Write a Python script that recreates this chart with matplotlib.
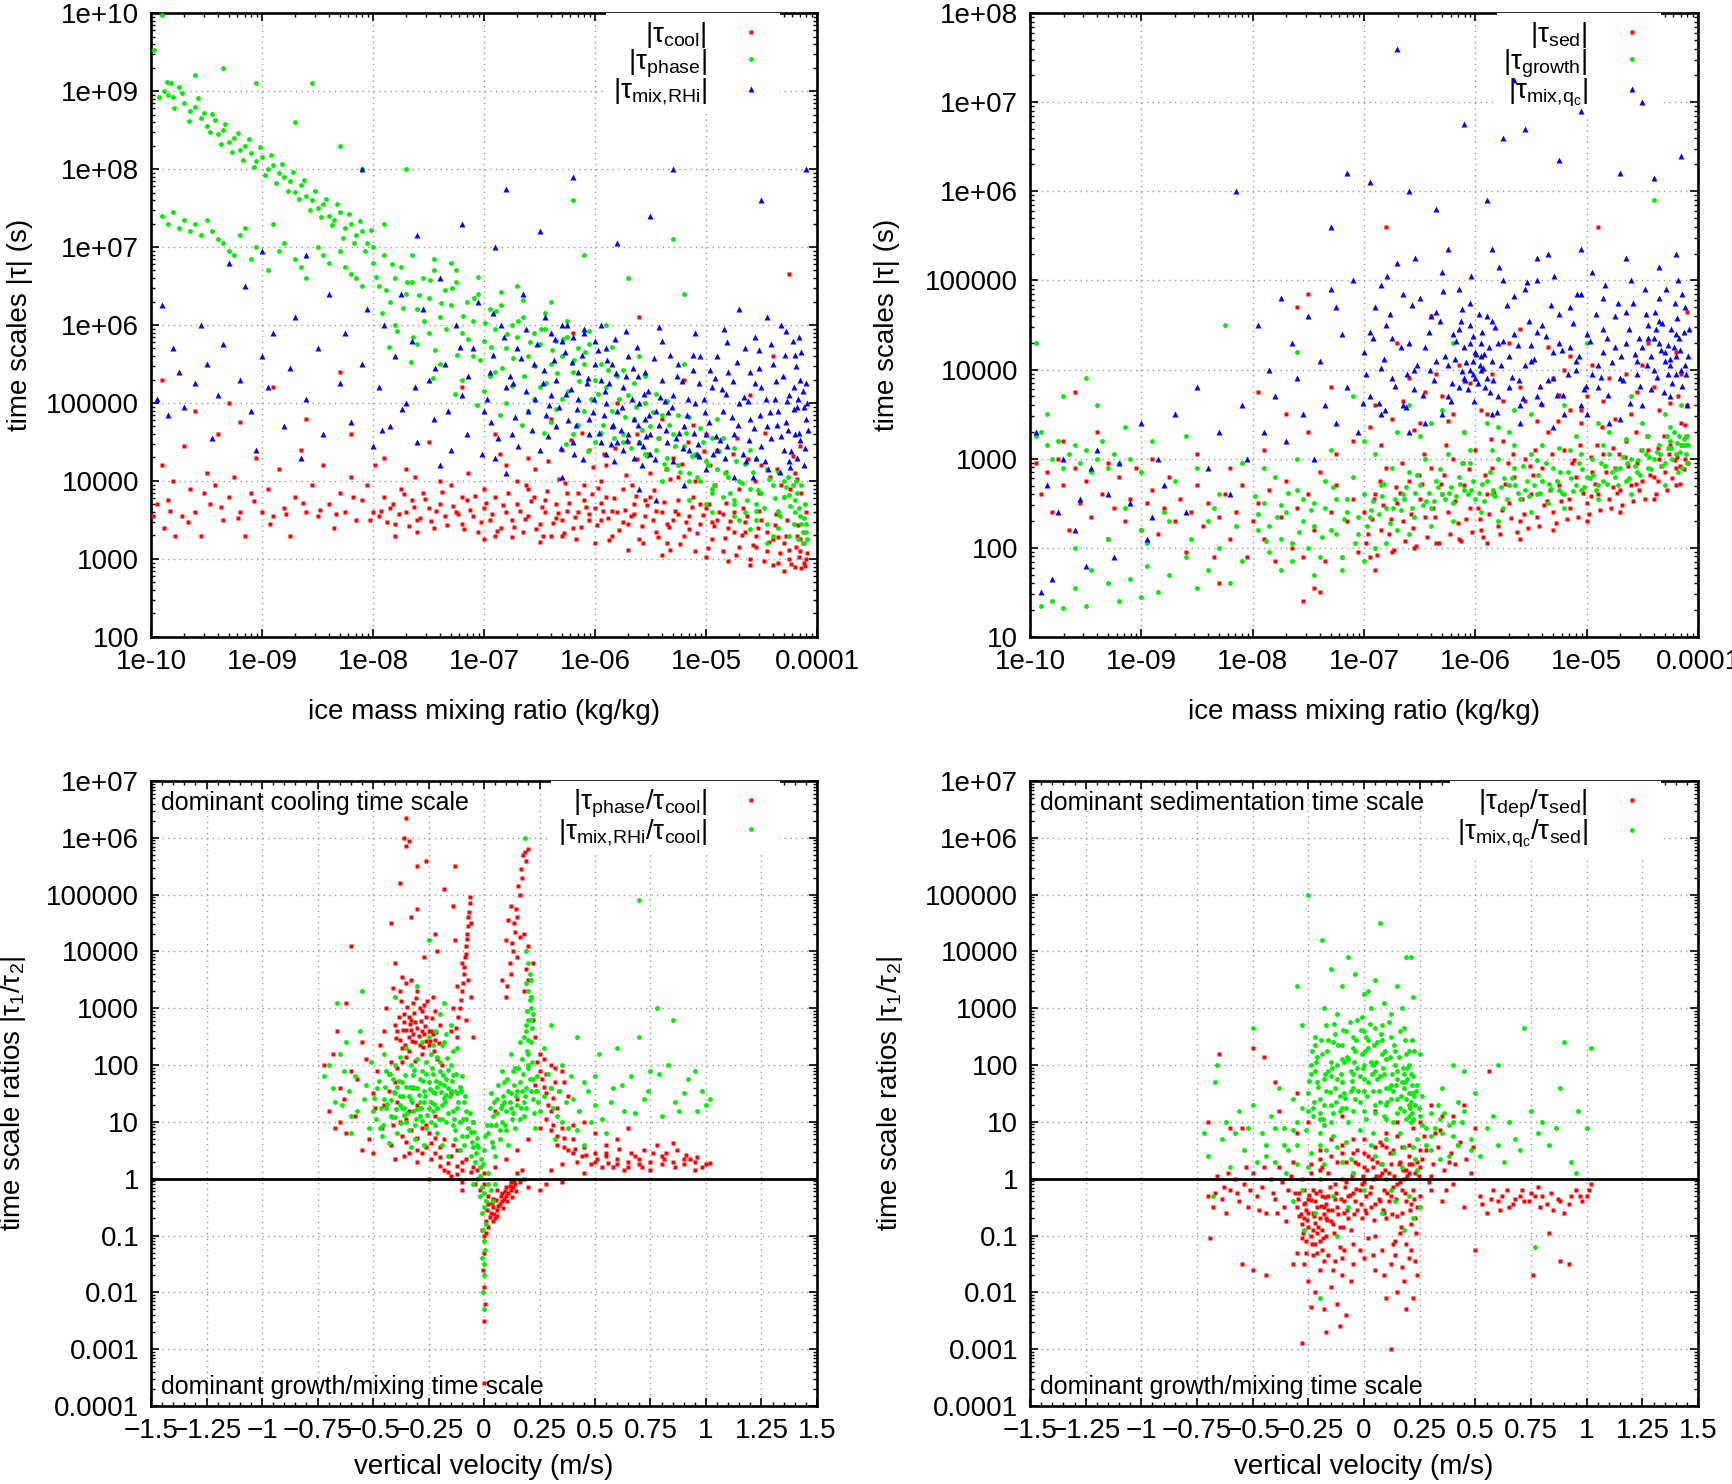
import numpy as np
import matplotlib
matplotlib.use('Agg')
import matplotlib.pyplot as plt
from matplotlib.ticker import LogLocator, FuncFormatter, MultipleLocator, NullFormatter

plt.rcParams['font.family'] = ['Liberation Sans', 'DejaVu Sans']
plt.rcParams['mathtext.fontset'] = 'custom'
plt.rcParams['mathtext.rm'] = 'Liberation Sans'
plt.rcParams['mathtext.it'] = 'Liberation Sans:italic'
plt.rcParams['mathtext.bf'] = 'Liberation Sans:bold'
plt.rcParams['mathtext.sf'] = 'Liberation Sans'

# ---------------- data ----------------
# top panels: (log10 ice mass mixing ratio, log10 |tau| in s)
tl_cool = [(-9.95,3.7),(-9.9,4.2),(-9.88,3.4),(-9.85,3.75),(-9.8,4.0),(-9.78,3.3),(-9.72,3.55),(-9.7,4.45),(-9.65,3.9),(-9.6,3.6),(-9.55,3.3),(-9.5,4.1),(-9.47,3.7),(-9.42,3.95),(-9.4,4.6),(-9.35,3.5),(-9.3,3.8),(-9.25,4.05),(-9.2,3.6),(-9.15,3.3),(-9.1,3.85),(-9.05,4.3),(-9.0,3.6),(-8.95,3.9),(-8.9,3.55),(-8.85,4.15),(-8.8,3.65),(-8.75,3.3),(-8.7,3.8),(-8.65,4.4),(-8.6,3.6),(-8.55,3.95),(-8.5,3.55),(-8.45,4.2),(-8.4,3.7),(-8.35,3.4),(-8.3,3.85),(-8.25,3.6),(-8.2,4.05),(-8.15,3.5),(-8.1,3.75),(-8.05,3.95),(-8.0,3.6),
    (-9.9,5.3),(-9.6,4.9),(-9.3,5.0),(-8.9,5.2),(-8.6,4.8),(-8.3,5.4),(-9.2,4.75),(-8.2,4.6),
    (-7.95,3.55),(-7.9,3.8),(-7.85,3.65),(-7.8,3.45),(-7.75,3.9),(-7.7,3.6),(-7.65,3.75),(-7.6,3.5),(-7.55,3.85),(-7.5,3.65),(-7.45,3.4),(-7.4,3.7),(-7.35,3.55),(-7.3,3.95),(-7.25,3.6),(-7.2,3.45),(-7.15,3.75),(-7.1,3.55),(-7.05,3.35),(-7.0,3.65),(-6.95,3.5),(-6.9,3.8),(-6.85,3.4),(-6.8,3.6),(-6.75,3.5),(-6.7,3.7),(-6.65,3.35),(-6.6,3.55),(-6.55,3.8),(-6.5,3.45),(-6.45,3.6),(-6.4,3.3),(-6.35,3.7),(-6.3,3.5),(-6.25,3.85),(-6.2,3.4),(-6.15,3.6),(-6.1,3.75),(-6.05,3.5),(-6.0,3.65),
    (-7.6,3.35),(-7.2,3.8),(-6.9,3.3),(-6.6,3.9),(-6.3,3.3),(-6.1,3.95),(-7.8,3.3),(-7.4,4.0),(-7.0,3.9),(-6.7,4.0),
    (-7.9,4.3),(-7.5,4.5),(-7.2,5.2),(-6.9,4.6),(-6.6,4.3),(-6.4,4.8),(-6.2,5.9),(-6.3,4.4),(-7.7,4.15),(-6.8,4.2),(-6.05,4.4),
    (-5.95,3.5),(-5.9,3.8),(-5.85,3.3),(-5.8,3.6),(-5.75,3.9),(-5.7,3.45),(-5.65,3.7),(-5.6,3.25),(-5.55,3.55),(-5.5,3.8),(-5.45,3.35),(-5.4,3.6),(-5.35,3.2),(-5.3,3.5),(-5.25,3.75),(-5.2,3.3),(-5.15,3.55),(-5.1,3.1),(-5.05,3.45),(-5.0,3.65),(-4.95,3.25),(-4.9,3.5),(-4.85,3.1),(-4.8,3.4),(-4.75,3.6),(-4.7,3.15),(-4.65,3.35),(-4.6,3.0),(-4.55,3.3),(-4.5,3.5),(-4.45,3.1),(-4.4,3.25),(-4.35,2.95),(-4.3,3.2),(-4.25,3.0),(-4.2,2.9),(-4.15,3.1),(-4.12,2.95),(-4.1,3.0),(-4.18,3.3),
    (-5.9,4.2),(-5.7,4.5),(-5.5,4.1),(-5.3,4.3),(-5.1,4.0),(-4.9,4.4),(-4.7,3.9),(-4.5,4.2),(-4.3,3.8),(-4.2,4.1),(-5.8,5.0),(-5.4,4.8),(-5.0,4.6),(-4.6,5.1),(-4.4,5.6),(-4.25,6.65),(-5.6,6.1),(-5.2,5.3),(-4.1,3.6),(-4.15,4.45),(-5.95,4.0),(-5.25,4.05),
    (-7.93,3.62),(-7.87,3.48),(-7.82,3.71),(-7.77,3.58),(-7.72,3.83),(-7.68,3.42),(-7.63,3.66),(-7.58,3.53),(-7.53,3.77),(-7.48,3.49),(-7.43,3.61),(-7.38,3.86),(-7.33,3.44),(-7.28,3.68),(-7.23,3.57),(-7.18,3.39),(-7.13,3.63),(-7.08,3.81),(-7.03,3.47),(-6.98,3.72),(-6.93,3.58),(-6.88,3.36),(-6.83,3.69),(-6.78,3.84),(-6.73,3.41),(-6.68,3.62),(-6.63,3.51),(-6.58,3.74),(-6.53,3.38),(-6.48,3.66),(-6.43,3.87),(-6.38,3.46),(-6.33,3.59),(-6.28,3.33),(-6.23,3.72),(-6.18,3.54),(-6.13,3.41),(-6.08,3.67),(-6.03,3.83),(-5.98,3.44),(-5.93,3.61),(-5.88,3.52),(-5.83,3.78),(-5.78,3.37),(-5.73,3.63),(-5.68,3.55),(-5.63,3.81),(-5.58,3.42),(-5.53,3.69),(-5.48,3.5),(-5.43,3.28),(-5.38,3.73),(-5.33,3.41),(-5.28,3.62),(-5.23,3.19),(-5.18,3.47),(-5.13,3.66),(-5.08,3.33),(-5.03,3.56),(-4.98,3.14),(-4.93,3.42),(-4.88,3.6),(-4.83,3.27),(-4.78,3.49),(-4.73,3.05),(-4.68,3.31),(-4.63,3.55),(-4.58,3.18),(-4.53,3.4),(-4.48,2.98),(-4.43,3.22),(-4.38,3.44),(-4.33,3.07),(-4.28,3.29),(-4.23,2.93),(-4.19,3.15),(-4.16,3.02),(-4.13,3.2),(-4.11,2.91),(-4.09,3.08),
    (-6.62,3.95),(-6.47,3.29),(-6.27,3.97),(-6.17,3.26),(-5.97,3.91),(-5.87,3.24),(-5.67,3.95),(-5.57,3.2),(-5.47,3.88),(-5.32,3.12),(-5.12,3.8),(-4.97,3.7),(-4.82,3.72),(-4.67,3.65),(-4.52,3.62),(-4.37,3.58),(-4.27,3.5),(-4.17,3.43),
    (-5.92,4.35),(-5.62,4.6),(-5.36,4.15),(-5.16,4.5),(-4.96,4.2),(-4.76,4.35),(-4.56,4.0),(-4.36,4.15),(-4.24,3.9),(-4.14,3.85),(-6.54,4.15),(-6.86,4.35),(-7.14,4.1),(-7.62,4.05),(-7.98,4.2),
    (-9.98,3.55),(-9.83,3.62),(-9.67,3.48),(-9.52,3.85),(-9.37,3.66),(-9.22,3.52),(-9.07,3.74),(-8.93,3.45),(-8.78,3.58),(-8.63,3.72),(-8.48,3.63),(-8.33,3.57),(-8.18,3.8),(-8.03,3.5),
    (-6.45,3.75),(-6.35,3.52),(-6.25,3.62),(-6.15,3.85),(-6.05,3.58),(-5.95,3.72),(-5.85,3.62),(-5.75,3.48),(-5.65,3.58),(-5.55,3.75),(-5.45,3.62),(-5.35,3.45),(-5.25,3.58),(-5.15,3.38),(-5.05,3.7),(-4.95,3.48),(-4.85,3.58),(-4.75,3.35),(-4.65,3.48),(-4.55,3.15),(-4.45,3.35),(-4.35,3.28),(-4.25,3.12),(-4.15,3.25),
    (-6.42,4.25),(-6.22,4.52),(-6.02,4.18),(-5.82,4.42),(-5.62,4.28),(-5.42,4.55),(-5.22,4.22),(-5.02,4.38),(-4.82,4.12),(-4.62,4.28),(-4.42,4.05),(-4.22,4.32),(-6.12,4.62),(-5.72,4.08),(-5.32,4.02),(-4.92,3.95),(-4.52,3.85),(-4.32,3.95),(-6.32,4.02),(-5.52,4.35),(-5.12,4.72),(-4.72,4.55),(-4.47,4.62),(-4.18,4.02),
    (-5.7,3.12),(-5.4,3.05),(-5.0,3.02),(-4.8,2.98),(-4.6,2.92),(-4.4,2.92),(-4.3,2.85),(-4.14,2.88),(-6.0,3.2),(-6.5,3.22),(-7.0,3.25),(-6.75,3.28)]

tl_phase = [(-9.97,9.53),(-9.9,9.98),(-9.88,9.0),(-9.85,8.95),(-9.82,9.1),(-9.8,8.93),(-9.75,9.05),(-9.7,8.85),(-9.65,8.75),(-9.6,8.8),(-9.55,8.65),(-9.5,8.55),(-9.45,8.7),(-9.4,8.45),(-9.35,8.5),(-9.3,8.35),(-9.25,8.4),(-9.2,8.25),(-9.15,8.3),(-9.1,8.2),(-9.05,8.1),(-9.0,8.15),(-8.95,8.0),(-8.9,8.05),(-8.85,7.95),(-8.8,7.9),(-8.75,7.85),(-8.7,7.7),(-8.65,7.8),(-8.6,7.65),(-8.55,7.6),(-8.5,7.5),(-8.45,7.55),(-8.4,7.4),(-8.35,7.35),(-8.3,7.45),(-8.25,7.25),(-8.2,7.3),(-8.15,7.15),(-8.1,7.2),(-8.05,7.05),(-8.0,7.0),
    (-9.6,9.2),(-9.35,9.3),(-9.05,9.1),(-8.55,9.1),(-8.7,8.6),(-8.1,8.0),(-8.3,8.3),(-7.7,8.0),(-6.2,7.6),(-5.3,7.1),
    (-9.9,7.4),(-9.8,7.45),(-9.75,7.25),(-9.65,7.2),(-9.6,7.3),(-9.5,7.35),(-9.45,7.2),(-9.4,7.1),(-9.3,6.95),(-9.25,6.9),(-9.15,7.25),(-9.05,7.0),(-8.95,6.7),(-8.9,7.3),(-8.8,7.05),(-8.7,6.85),(-8.6,6.6),(-8.5,7.0),(-8.4,6.8),(-8.3,6.95),(-8.2,6.65),(-8.1,6.5),
    (-8.0,6.8),(-7.95,6.5),(-7.9,6.9),(-7.85,6.3),(-7.8,6.6),(-7.75,6.75),(-7.7,6.4),(-7.65,6.55),(-7.6,6.2),(-7.55,6.6),(-7.5,6.35),(-7.45,6.7),(-7.4,6.1),(-7.35,6.45),(-7.3,6.25),(-7.25,6.55),(-7.2,5.9),(-7.15,6.3),(-7.1,6.05),(-7.05,6.4),(-7.0,5.8),(-6.95,6.2),(-6.9,5.95),(-6.85,6.25),(-6.8,5.7),(-6.75,6.0),(-6.7,5.85),(-6.65,6.1),(-6.6,5.6),(-6.55,5.9),(-6.5,5.75),(-6.45,5.95),(-6.4,5.5),(-6.35,5.8),(-6.3,5.6),(-6.25,5.85),(-6.2,5.4),(-6.15,5.7),(-6.1,5.5),(-6.05,5.75),(-6.0,5.3),
    (-7.8,6.0),(-7.6,5.75),(-7.4,5.5),(-7.2,5.3),(-7.0,5.15),(-6.8,5.0),(-6.6,4.9),(-6.4,4.75),(-6.2,4.6),(-7.5,5.9),(-7.1,5.6),(-6.9,5.4),(-6.5,5.2),(-6.3,5.05),(-6.1,4.9),
    (-5.95,5.5),(-5.9,5.2),(-5.85,4.9),(-5.8,5.35),(-5.75,4.6),(-5.7,5.1),(-5.65,4.8),(-5.6,4.5),(-5.55,5.0),(-5.5,4.7),(-5.45,4.4),(-5.4,4.85),(-5.35,4.3),(-5.3,4.6),(-5.25,4.2),(-5.2,4.45),(-5.15,4.1),(-5.1,4.35),(-5.05,4.0),(-5.0,4.25),(-4.95,3.9),(-4.9,4.15),(-4.85,3.8),(-4.8,4.05),(-4.75,3.7),(-4.7,4.0),(-4.65,3.6),(-4.6,3.9),(-4.55,3.5),(-4.5,3.85),(-4.45,3.45),(-4.4,3.95),(-4.35,3.4),(-4.3,3.8),(-4.25,3.3),(-4.2,3.6),(-4.17,3.25),(-4.14,3.45),(-4.12,3.2),(-4.1,3.35),(-4.22,3.95),(-4.3,4.0),
    (-5.9,6.0),(-5.6,5.6),(-5.2,5.5),(-4.9,4.8),(-4.6,4.4),(-6.0,4.5),(-5.4,4.0),(-5.0,3.7),(-4.7,3.5),(-4.45,3.2),(-7.9,7.3),(-7.3,6.8),(-6.7,6.5),(-6.4,6.3),(-5.7,6.6),(-5.2,6.4),(-6.1,6.9),
    (-9.93,8.92),(-9.86,9.12),(-9.79,8.78),(-9.72,8.98),(-9.66,8.62),(-9.58,8.91),(-9.52,8.72),(-9.47,8.48),(-9.42,8.63),(-9.37,8.32),(-9.33,8.58),(-9.27,8.22),(-9.22,8.46),(-9.17,8.12),(-9.12,8.38),(-9.07,8.02),(-9.02,8.28),(-8.97,7.92),(-8.92,8.18),(-8.87,7.82),(-8.82,8.06),(-8.77,7.72),(-8.72,7.96),(-8.67,7.62),(-8.62,7.86),(-8.57,7.48),(-8.52,7.72),(-8.47,7.38),(-8.42,7.62),(-8.37,7.28),(-8.32,7.55),(-8.27,7.12),(-8.22,7.42),(-8.17,7.05),(-8.12,7.33),(-8.07,6.95),(-8.02,7.22),
    (-9.85,7.3),(-9.7,7.35),(-9.55,7.15),(-9.35,7.05),(-9.2,7.15),(-9.1,6.85),(-8.85,6.95),(-8.65,6.75),(-8.45,6.9),(-8.25,6.75),(-8.15,6.6),
    (-7.97,6.62),(-7.92,6.15),(-7.88,6.45),(-7.83,6.78),(-7.78,5.92),(-7.73,6.22),(-7.69,6.55),(-7.64,5.85),(-7.59,6.38),(-7.54,6.05),(-7.49,6.58),(-7.44,5.68),(-7.39,6.28),(-7.34,5.95),(-7.29,6.48),(-7.24,5.62),(-7.19,6.12),(-7.14,5.82),(-7.09,6.35),(-7.04,5.55),(-6.99,6.02),(-6.94,5.72),(-6.89,6.18),(-6.84,5.45),(-6.79,5.88),(-6.74,5.58),(-6.69,6.05),(-6.64,5.35),(-6.59,5.78),(-6.54,5.48),(-6.49,5.95),(-6.44,5.25),(-6.39,5.68),(-6.34,5.38),(-6.29,5.82),(-6.24,5.15),(-6.19,5.55),(-6.14,5.28),(-6.09,5.65),(-6.04,5.05),
    (-7.86,5.72),(-7.66,5.52),(-7.46,5.32),(-7.26,5.12),(-7.06,4.98),(-6.86,4.85),(-6.66,4.72),(-6.46,4.62),(-6.26,4.48),(-6.06,4.38),
    (-5.97,5.12),(-5.93,4.72),(-5.88,5.42),(-5.83,4.55),(-5.78,5.05),(-5.73,4.82),(-5.68,4.42),(-5.63,4.95),(-5.58,4.65),(-5.53,4.32),(-5.48,4.88),(-5.43,4.55),(-5.38,4.22),(-5.33,4.72),(-5.28,4.45),(-5.23,4.12),(-5.18,4.62),(-5.13,4.32),(-5.08,4.05),(-5.03,4.5),(-4.98,4.2),(-4.93,3.95),(-4.88,4.38),(-4.83,4.1),(-4.78,3.85),(-4.73,4.25),(-4.68,3.98),(-4.63,3.75),(-4.58,4.12),(-4.53,3.88),(-4.48,3.65),(-4.43,4.02),(-4.38,3.78),(-4.33,3.55),(-4.28,3.92),(-4.24,3.68),(-4.21,3.45),(-4.18,3.85),(-4.15,3.55),(-4.13,3.35),(-4.11,3.7),(-4.09,3.25),(-4.26,4.05),(-4.19,4.0),(-4.14,3.95),(-4.35,3.62),(-4.55,3.62),(-4.75,3.55),(-4.95,3.6),(-5.15,3.75),(-4.4,3.3),(-4.6,3.38),
    (-5.85,5.72),(-5.75,5.42),(-5.65,5.25),(-5.55,5.35),(-5.45,5.12),(-5.35,5.02),(-5.25,4.85),(-5.15,4.82),(-5.05,4.68),(-4.95,4.55),(-4.85,4.55),(-4.75,4.42),(-4.65,4.22),(-4.55,4.28),(-4.45,4.15),(-4.35,4.12),(-4.25,3.82),(-4.2,3.75),(-4.16,3.65),(-4.12,3.52),(-4.1,3.45),
    (-6.95,5.35),(-6.75,5.22),(-6.55,5.05),(-6.35,4.92),(-6.15,4.72),(-5.95,4.62),(-5.75,4.5),(-5.55,4.35),(-5.35,4.15),(-5.15,4.0),(-4.95,3.85),(-4.75,3.75),(-4.55,3.7),(-4.35,3.6),
    (-7.65,6.9),(-7.45,6.85),(-7.25,6.7),(-7.05,6.62),(-6.85,6.42),(-6.65,6.32),(-6.45,6.15),(-6.25,6.05),(-6.05,5.92)]

tl_mix = [(-9.95,5.05),(-9.9,6.25),(-9.85,4.85),(-9.8,5.7),(-9.75,5.4),(-9.7,4.95),(-9.6,5.25),(-9.55,6.0),(-9.5,5.5),(-9.4,5.1),(-9.35,5.75),(-9.3,6.8),(-9.2,5.3),(-9.15,6.5),(-9.1,4.9),(-9.0,5.6),(-8.95,5.2),(-8.9,5.9),(-8.8,4.7),(-8.75,5.45),(-8.7,6.1),(-8.6,5.05),(-8.5,5.7),(-8.45,4.6),(-8.4,6.4),(-8.3,5.25),(-8.25,5.9),(-8.2,4.75),(-8.1,5.5),(-8.05,6.2),(-9.45,4.55),(-9.05,4.4),(-8.65,4.3),(-8.0,4.45),
    (-9.0,6.95),(-8.6,6.9),(-8.1,8.0),(-7.2,7.3),(-6.8,7.75),(-6.5,7.2),(-6.2,7.9),(-5.8,7.05),(-5.3,8.0),(-4.1,8.0),(-7.6,7.15),(-6.9,7.0),(-5.5,7.4),(-4.5,7.6),
    (-7.95,5.2),(-7.9,6.0),(-7.85,4.7),(-7.8,5.6),(-7.75,6.4),(-7.7,5.0),(-7.65,5.8),(-7.6,4.5),(-7.55,6.2),(-7.5,5.3),(-7.45,4.8),(-7.4,6.6),(-7.35,5.5),(-7.3,4.4),(-7.25,6.0),(-7.2,5.1),(-7.15,4.6),(-7.1,5.7),(-7.05,6.3),(-7.0,4.9),(-6.95,5.4),(-6.9,4.3),(-6.85,6.0),(-6.8,5.2),(-6.75,4.6),(-6.7,5.7),(-6.65,6.4),(-6.6,4.9),(-6.55,5.5),(-6.5,4.4),(-6.45,6.1),(-6.4,5.1),(-6.35,4.7),(-6.3,5.8),(-6.25,6.0),(-6.2,4.5),(-6.15,5.4),(-6.1,5.9),(-6.05,4.8),(-6.0,5.5),
    (-6.4,5.9),(-6.3,6.0),(-6.2,5.85),(-6.1,5.95),(-6.0,5.8),(-5.95,6.0),(-5.9,5.7),(-6.35,5.3),(-6.15,5.05),(-6.05,4.6),(-5.95,4.5),(-5.9,4.35),(-5.85,4.7),(-5.8,4.5),(-5.75,4.4),(-5.7,4.6),(-5.65,4.3),(-5.6,4.5),(-5.55,4.8),(-5.5,4.35),
    (-5.95,5.3),(-5.9,5.0),(-5.85,5.5),(-5.8,4.9),(-5.75,5.2),(-5.7,5.6),(-5.65,4.8),(-5.6,5.0),(-5.55,5.4),(-5.5,4.6),(-5.45,4.9),(-5.4,5.3),(-5.35,4.5),(-5.3,5.1),(-5.25,5.5),(-5.2,4.7),(-5.15,4.4),(-5.1,5.0),(-5.05,5.6),(-5.0,4.6),(-4.95,5.2),(-4.9,4.4),(-4.85,4.9),(-4.8,5.4),(-4.75,4.6),(-4.7,5.0),(-4.65,5.7),(-4.6,4.8),(-4.55,4.3),(-4.5,5.2),(-4.45,4.7),(-4.4,5.5),(-4.35,4.9),(-4.3,4.4),(-4.25,5.1),(-4.2,4.6),(-4.15,5.3),(-4.12,4.2),(-4.1,4.8),(-4.22,5.8),(-4.32,6.0),(-4.45,6.1),(-4.7,6.2),(-5.1,5.9),(-5.4,5.8),(-4.18,4.95),(-4.28,4.75),(-4.38,5.05),(-4.6,5.4),(-4.9,5.6),(-5.3,4.25),(-5.0,4.15),(-4.75,4.05),(-4.5,4.45),(-4.25,4.25),
    (-6.8,4.1),(-7.4,4.2),(-6.3,4.05),(-5.6,3.9),(-5.45,3.75),(-5.2,3.95),
    (-6.97,5.05),(-6.92,5.62),(-6.87,4.55),(-6.82,5.85),(-6.77,5.35),(-6.72,4.82),(-6.67,5.58),(-6.62,5.15),(-6.57,4.65),(-6.52,5.75),(-6.47,5.25),(-6.42,4.58),(-6.37,5.55),(-6.32,4.95),(-6.27,5.65),(-6.22,5.18),(-6.17,4.72),(-6.12,5.62),(-6.07,5.25),(-6.02,4.88),
    (-5.97,5.68),(-5.92,4.85),(-5.87,5.25),(-5.82,5.82),(-5.77,4.65),(-5.72,5.35),(-5.67,5.05),(-5.62,5.72),(-5.57,4.45),(-5.52,5.15),(-5.47,5.58),(-5.42,4.72),(-5.37,5.02),(-5.32,5.62),(-5.27,4.55),(-5.22,5.28),(-5.17,4.85),(-5.12,5.42),(-5.07,4.48),(-5.02,5.05),(-4.97,4.75),(-4.92,5.32),(-4.87,4.52),(-4.82,5.12),(-4.77,4.82),(-4.72,5.52),(-4.67,4.35),(-4.62,5.02),(-4.57,4.68),(-4.52,5.45),(-4.47,4.25),(-4.42,4.88),(-4.37,5.28),(-4.32,4.58),(-4.27,5.02),(-4.23,4.38),(-4.19,5.48),(-4.16,4.62),(-4.13,5.15),(-4.11,4.42),(-4.09,5.0),(-4.14,5.65),(-4.21,5.2),(-4.29,5.62),(-4.41,5.75),(-4.56,5.85),(-4.81,5.78),(-5.06,5.25),(-5.34,4.88),(-5.61,5.35),(-5.89,5.55),(-6.19,4.35),(-6.44,4.85),(-6.69,4.45),(-7.02,4.35),(-7.32,4.9),(-7.62,5.2),(-7.92,4.65),
    (-4.58,4.05),(-4.33,4.12),(-4.18,4.3),(-4.83,4.3),(-5.08,4.35),(-5.58,4.2),(-5.83,4.25),
    (-6.46,5.42),(-6.41,4.98),(-6.36,5.82),(-6.31,4.42),(-6.26,5.12),(-6.21,5.52),(-6.16,4.92),(-6.11,4.28),(-6.06,5.32),(-6.01,5.05),(-5.96,4.62),(-5.91,5.15),(-5.86,4.48),(-5.81,5.38),(-5.76,4.95),(-5.71,4.52),(-5.66,5.45),(-5.61,4.72),(-5.56,5.12),(-5.51,4.85),(-5.46,4.28),(-5.41,5.08),(-5.36,4.65),(-5.31,4.95),(-5.26,5.35),(-5.21,4.42),(-5.16,5.05),(-5.11,4.62),(-5.06,4.32),(-5.01,4.88),(-4.96,5.42),(-4.91,4.58),(-4.86,5.18),(-4.81,4.45),(-4.76,5.28),(-4.71,4.72),(-4.66,5.08),(-4.61,4.52),(-4.56,5.25),(-4.51,4.85),(-4.46,5.05),(-4.41,4.55),(-4.36,4.72),(-4.31,5.35),(-4.26,4.65),(-4.21,4.92),(-4.17,5.05),(-4.15,4.52),(-4.12,4.95),(-4.1,5.25),(-4.08,4.65),(-4.2,5.62),(-4.24,4.18),(-4.44,4.15),(-4.64,4.25),(-4.94,4.35),(-5.24,4.62),(-5.54,4.58),(-5.84,4.72),(-6.24,4.78),(-6.54,5.05),(-6.74,5.25),(-6.94,4.75),(-7.14,5.35),(-7.44,5.45),(-7.74,4.92),
    (-5.72,5.92),(-5.42,5.98),(-5.12,5.62),(-4.84,5.95),(-4.52,5.68),(-4.28,5.92),(-4.16,5.85),(-6.62,5.95),(-6.92,6.15),(-7.22,5.72)]

tr_sed = [(-9.95,2.95),(-9.9,2.6),(-9.85,2.85),(-9.8,2.4),(-9.75,3.0),(-9.7,2.7),(-9.65,2.2),(-9.6,2.9),(-9.55,2.5),(-9.5,2.75),(-9.45,2.35),(-9.4,3.3),(-9.35,2.6),(-9.3,2.1),(-9.25,2.45),(-9.2,2.8),(-9.15,2.3),(-9.1,2.55),(-9.05,2.9),(-9.0,2.2),(-8.95,2.5),(-8.9,2.65),(-8.85,2.15),(-8.8,2.45),(-8.75,2.8),(-8.7,2.3),(-8.65,2.55),(-8.6,1.95),(-8.55,2.4),(-8.5,2.7),(-8.45,2.25),(-8.4,2.5),(-8.35,1.9),(-8.3,2.35),(-8.25,2.6),(-8.2,2.1),(-8.15,2.4),(-8.1,2.7),(-8.05,1.9),(-8.0,2.3),(-9.7,3.2),(-9.3,2.95),(-8.9,3.0),(-8.5,3.05),(-8.2,2.9),(-9.6,3.75),
    (-7.95,2.5),(-7.9,2.1),(-7.85,2.65),(-7.8,1.85),(-7.75,2.35),(-7.7,2.75),(-7.65,2.0),(-7.6,2.45),(-7.55,1.9),(-7.5,2.6),(-7.45,2.2),(-7.4,2.85),(-7.35,1.85),(-7.3,2.4),(-7.25,2.7),(-7.2,1.9),(-7.15,2.3),(-7.1,2.55),(-7.05,1.95),(-7.0,2.4),(-6.95,1.9),(-6.9,2.6),(-6.85,2.2),(-6.8,2.9),(-6.75,1.95),(-6.7,2.5),(-6.65,2.3),(-6.6,2.75),(-6.55,2.0),(-6.5,2.55),(-6.45,2.35),(-6.4,2.9),(-6.35,2.05),(-6.3,2.6),(-6.25,2.4),(-6.2,3.0),(-6.15,2.1),(-6.1,2.7),(-6.05,2.45),(-6.0,3.1),
    (-7.9,3.1),(-7.7,3.5),(-7.5,3.3),(-7.3,3.8),(-7.1,3.2),(-6.9,3.6),(-6.7,4.3),(-6.5,3.4),(-6.3,3.7),(-6.1,3.3),(-6.6,3.9),(-7.6,4.7),(-7.5,4.85),(-6.8,5.6),(-7.95,3.75),(-6.4,4.6),(-6.2,3.5),(-6.95,3.35),(-8.3,1.6),(-7.55,1.4),(-7.4,1.5),(-6.9,1.75),(-7.45,1.55),
    (-5.95,2.2),(-5.9,2.6),(-5.85,2.9),(-5.8,2.25),(-5.75,3.2),(-5.7,2.5),(-5.65,2.8),(-5.6,2.3),(-5.55,3.0),(-5.5,2.6),(-5.45,2.35),(-5.4,2.9),(-5.35,3.3),(-5.3,2.4),(-5.25,2.7),(-5.2,3.1),(-5.15,2.45),(-5.1,2.8),(-5.05,3.4),(-5.0,2.5),(-4.95,2.85),(-4.9,2.6),(-4.85,3.05),(-4.8,2.55),(-4.75,2.9),(-4.7,2.65),(-4.65,3.2),(-4.6,2.7),(-4.55,2.95),(-4.5,2.75),(-4.45,3.1),(-4.4,2.8),(-4.35,3.0),(-4.3,2.85),(-4.25,3.15),(-4.2,2.9),(-4.15,3.4),(-4.12,3.0),(-4.1,3.6),(-4.18,3.7),
    (-5.9,3.5),(-5.6,3.8),(-5.4,3.6),(-5.2,4.0),(-5.0,3.7),(-4.8,3.9),(-4.6,3.5),(-4.4,3.8),(-4.2,4.2),(-4.1,4.65),(-4.9,5.6),(-5.7,4.3),(-4.5,4.05),(-5.3,3.9),
    (-5.9,2.05),(-5.6,2.1),(-5.3,2.2),(-5.0,2.3),(-4.7,2.4),(-4.4,2.55),(-4.2,2.7),
    (-6.98,2.05),(-6.93,2.32),(-6.88,1.92),(-6.83,2.48),(-6.78,2.15),(-6.73,1.98),(-6.68,2.62),(-6.63,2.08),(-6.58,2.38),(-6.53,2.02),(-6.48,2.72),(-6.43,2.12),(-6.38,2.45),(-6.33,2.05),(-6.28,2.82),(-6.23,2.15),(-6.18,2.52),(-6.13,2.08),(-6.08,2.32),(-6.03,2.18),
    (-5.98,2.45),(-5.93,2.12),(-5.88,2.38),(-5.83,2.62),(-5.78,2.16),(-5.73,2.72),(-5.68,2.33),(-5.63,2.18),(-5.58,2.55),(-5.53,2.22),(-5.48,2.82),(-5.43,2.25),(-5.38,2.48),(-5.33,2.65),(-5.28,2.28),(-5.23,2.52),(-5.18,2.32),(-5.13,2.95),(-5.08,2.35),(-5.03,2.62),(-4.98,2.38),(-4.93,2.72),(-4.88,2.42),(-4.83,2.85),(-4.78,2.45),(-4.73,2.62),(-4.68,2.48),(-4.63,2.92),(-4.58,2.52),(-4.53,2.65),(-4.48,2.55),(-4.43,2.82),(-4.38,2.6),(-4.33,2.92),(-4.28,2.65),(-4.23,2.78),(-4.19,3.02),(-4.16,2.72),(-4.13,2.88),(-4.11,3.25),(-4.09,2.95),(-4.14,3.15),(-4.21,2.98),(-4.26,3.05),(-4.36,3.12),(-4.46,3.25),(-4.56,3.3),(-4.66,3.02),(-4.76,3.12),(-4.86,3.35),(-4.96,3.02),(-5.06,3.15),(-5.26,3.42),(-5.46,3.1),(-5.66,3.05),(-5.86,3.22),(-6.06,2.88),(-6.26,3.15),(-6.46,3.05),(-6.66,2.95),(-6.86,2.75),
    (-5.55,3.65),(-5.15,3.55),(-4.75,3.45),(-4.35,3.55),(-6.45,3.75),(-6.75,3.45),(-7.25,3.05),(-6.05,3.85),(-5.35,4.25),(-4.65,3.95),
    (-6.96,2.15),(-6.76,2.32),(-6.56,2.22),(-6.36,2.35),(-6.16,2.28),(-5.96,2.32),(-5.76,2.42),(-5.56,2.38),(-5.36,2.52),(-5.16,2.55),(-4.96,2.58),(-4.76,2.68),(-4.56,2.72),(-4.36,2.75),(-4.16,2.92),
    (-6.91,2.55),(-6.71,2.68),(-6.51,2.82),(-6.31,2.72),(-6.11,2.95),(-5.91,2.82),(-5.71,2.95),(-5.51,2.92),(-5.31,3.05),(-5.11,2.98),(-4.91,3.15),(-4.71,3.05),(-4.51,3.1),(-4.31,3.25),(-4.12,3.38),
    (-6.85,3.15),(-6.55,3.32),(-6.25,3.42),(-5.95,3.55),(-5.75,3.65),(-5.45,3.42),(-5.25,3.72),(-5.05,3.55),(-4.85,3.65),(-4.55,3.75),(-4.25,3.62),(-6.65,3.65),(-6.35,3.95),(-5.85,3.95),(-5.15,4.15),(-4.45,4.3),(-4.15,3.95),(-6.15,4.05),(-5.6,4.45),(-4.95,4.05)]

tr_growth = [(-9.95,3.25),(-9.9,3.3),(-9.85,3.15),(-9.8,3.0),(-9.75,3.2),(-9.7,2.9),(-9.65,3.05),(-9.6,3.15),(-9.55,2.95),(-9.5,3.1),(-9.45,2.85),(-9.4,3.0),(-9.35,3.2),(-9.3,2.9),(-9.25,3.05),(-9.2,2.95),(-9.1,3.0),(-9.0,2.85),(-9.95,4.3),(-9.85,3.5),(-9.7,3.7),(-9.5,3.9),(-9.4,3.6),(-9.15,3.35),
    (-9.9,1.35),(-9.8,1.4),(-9.7,1.32),(-9.6,1.55),(-9.5,1.35),(-9.45,1.75),(-9.3,1.6),(-9.2,1.4),(-9.1,1.65),(-9.0,1.45),(-8.95,1.8),(-8.85,1.5),(-8.75,1.7),(-8.6,1.9),(-8.5,1.55),(-8.4,1.75),(-8.3,2.0),(-8.2,1.6),(-8.1,1.85),(-9.6,2.0),(-9.3,2.1),(-9.0,2.2),(-8.8,2.4),(-8.7,2.75),(-8.5,2.9),(-8.3,2.6),(-8.1,2.95),(-8.9,3.2),(-8.6,3.25),(-8.25,4.5),(-8.4,2.3),
    (-7.95,2.2),(-7.9,2.5),(-7.85,1.95),(-7.8,2.8),(-7.75,2.1),(-7.7,2.4),(-7.65,1.85),(-7.6,2.65),(-7.55,2.3),(-7.5,2.0),(-7.45,2.5),(-7.4,1.9),(-7.35,2.75),(-7.3,2.2),(-7.25,2.55),(-7.2,1.9),(-7.15,2.4),(-7.1,2.8),(-7.05,2.15),(-7.0,2.6),(-6.95,2.35),(-6.9,2.0),(-6.85,2.7),(-6.8,2.45),(-6.75,2.9),(-6.7,2.2),(-6.65,2.6),(-6.6,2.85),(-6.55,2.35),(-6.5,2.7),(-6.45,3.0),(-6.4,2.45),(-6.35,2.75),(-6.3,2.6),(-6.25,3.05),(-6.2,2.5),(-6.15,2.8),(-6.1,2.65),(-6.05,3.1),(-6.0,2.55),
    (-7.9,2.9),(-7.6,3.0),(-7.3,3.1),(-7.0,3.2),(-6.7,3.3),(-6.4,3.4),(-7.75,1.75),(-7.45,1.7),(-7.2,1.75),(-7.0,1.85),(-6.8,2.05),(-6.6,2.15),(-6.4,2.25),(-6.2,2.3),(-7.6,4.2),(-7.1,3.7),(-6.6,3.6),(-6.2,4.3),
    (-5.95,2.4),(-5.9,2.75),(-5.85,2.6),(-5.8,3.0),(-5.75,2.45),(-5.7,2.7),(-5.65,2.9),(-5.6,2.55),(-5.55,2.65),(-5.5,3.05),(-5.45,2.6),(-5.4,2.75),(-5.35,2.5),(-5.3,2.9),(-5.25,2.65),(-5.2,2.6),(-5.15,3.1),(-5.1,2.7),(-5.05,2.65),(-5.0,2.8),(-4.95,3.0),(-4.9,2.7),(-4.85,2.75),(-4.8,3.05),(-4.75,2.8),(-4.7,2.9),(-4.65,2.75),(-4.6,3.0),(-4.55,2.85),(-4.5,3.1),(-4.45,2.9),(-4.4,3.0),(-4.35,3.15),(-4.3,2.95),(-4.25,3.2),(-4.2,3.05),(-4.17,3.25),(-4.14,2.9),(-4.12,3.15),(-4.1,2.95),
    (-5.9,3.4),(-5.5,3.5),(-5.2,3.6),(-4.9,3.4),(-4.6,3.7),(-4.3,3.5),(-5.0,4.3),(-4.4,5.9),(-5.7,3.3),(-4.15,3.6),(-5.8,2.3),(-5.5,2.4),(-5.2,2.45),(-4.9,2.55),(-4.6,2.6),(-4.3,2.7),
    (-6.97,2.25),(-6.92,2.52),(-6.87,2.38),(-6.82,2.72),(-6.77,2.28),(-6.72,2.55),(-6.67,2.42),(-6.62,2.68),(-6.57,2.45),(-6.52,2.82),(-6.47,2.48),(-6.42,2.62),(-6.37,2.52),(-6.32,2.88),(-6.27,2.55),(-6.22,2.68),(-6.17,2.58),(-6.12,2.95),(-6.07,2.6),(-6.02,2.75),
    (-5.97,2.62),(-5.92,2.52),(-5.87,2.85),(-5.82,2.58),(-5.77,2.68),(-5.72,2.55),(-5.67,2.78),(-5.62,2.62),(-5.57,2.92),(-5.52,2.58),(-5.47,2.7),(-5.42,2.62),(-5.37,2.95),(-5.32,2.66),(-5.27,2.75),(-5.22,2.62),(-5.17,2.85),(-5.12,2.64),(-5.07,2.95),(-5.02,2.68),(-4.97,2.78),(-4.92,2.65),(-4.87,2.95),(-4.82,2.72),(-4.77,2.85),(-4.72,2.7),(-4.67,3.02),(-4.62,2.78),(-4.57,2.92),(-4.52,2.82),(-4.47,3.05),(-4.42,2.88),(-4.37,3.08),(-4.32,2.92),(-4.27,3.12),(-4.23,3.0),(-4.19,3.18),(-4.16,3.08),(-4.13,3.22),(-4.11,3.05),(-4.09,3.15),(-4.22,3.3),(-4.28,3.25),(-4.18,2.85),
    (-7.48,2.42),(-7.38,2.12),(-7.28,2.68),(-7.18,2.32),(-7.08,2.05),(-7.58,2.18),(-7.68,2.62),(-7.78,2.35),(-7.88,2.08),(-7.98,2.58),(-8.15,2.25),(-8.35,2.45),(-8.55,2.1),(-8.75,2.3),(-8.95,2.05),(-9.15,2.45),
    (-6.9,3.05),(-6.5,3.25),(-6.1,3.3),(-5.8,3.35),(-5.4,3.15),(-5.1,3.25),(-4.8,3.3),(-4.5,3.4),(-5.65,3.55),(-6.3,3.55),
    (-6.94,2.42),(-6.84,2.58),(-6.74,2.45),(-6.64,2.55),(-6.54,2.62),(-6.44,2.52),(-6.34,2.68),(-6.24,2.62),(-6.14,2.72),(-6.04,2.65),(-5.94,2.72),(-5.84,2.65),(-5.74,2.78),(-5.64,2.7),(-5.54,2.75),(-5.44,2.82),(-5.34,2.72),(-5.24,2.85),(-5.14,2.78),(-5.04,2.88),(-4.94,2.82),(-4.84,2.92),(-4.74,2.88),(-4.64,2.95),(-4.54,2.98),(-4.44,3.02),(-4.34,3.05),(-4.24,3.12),(-4.15,3.15),(-4.1,3.25),
    (-7.45,2.25),(-7.35,2.45),(-7.25,2.15),(-7.15,2.55),(-7.05,2.35),(-7.55,2.55),(-7.65,2.05),(-7.75,2.48),(-7.85,2.25),(-7.95,2.38),
    (-6.05,2.95),(-5.85,3.1),(-5.65,3.15),(-5.45,2.98),(-5.25,3.12),(-5.05,3.05),(-4.85,3.15),(-4.65,3.22),(-4.45,3.25),(-4.25,3.35)]

tr_mix = [(-9.95,3.3),(-9.9,1.5),(-9.85,2.7),(-9.8,1.65),(-9.75,2.4),(-9.7,3.0),(-9.6,2.2),(-9.5,1.8),(-9.45,2.9),(-9.4,3.1),(-9.3,2.6),(-9.25,1.9),(-9.1,2.5),(-9.0,3.4),(-8.95,2.1),(-8.85,3.0),(-8.8,2.7),(-8.7,3.5),(-8.6,2.4),(-8.5,3.8),(-8.4,2.9),(-8.3,3.3),(-8.2,2.6),(-8.1,3.6),(-8.05,3.0),(-9.55,2.55),(-9.2,2.95),(-8.9,2.35),
    (-7.95,4.5),(-7.9,3.3),(-7.85,4.0),(-7.8,3.7),(-7.75,4.8),(-7.7,3.2),(-7.65,4.3),(-7.6,3.9),(-7.55,3.5),(-7.5,4.6),(-7.45,3.0),(-7.4,4.1),(-7.35,3.6),(-7.3,4.9),(-7.25,3.4),(-7.2,4.4),(-7.15,3.8),(-7.1,5.0),(-7.05,3.3),(-7.0,4.2),(-6.95,3.7),(-6.9,4.7),(-6.85,3.5),(-6.8,4.5),(-6.75,3.9),(-6.7,5.2),(-6.65,3.6),(-6.6,4.3),(-6.55,4.0),(-6.5,4.8),(-6.45,3.4),(-6.4,4.6),(-6.35,4.1),(-6.3,5.1),(-6.25,3.7),(-6.2,4.4),(-6.15,4.9),(-6.1,3.9),(-6.05,4.5),(-6.0,4.2),
    (-8.15,6.0),(-7.3,5.6),(-6.95,6.1),(-6.6,6.0),(-7.15,6.2),(-6.1,6.75),(-5.75,6.6),(-5.55,6.7),(-5.05,6.9),(-5.25,6.35),(-4.7,6.2),(-4.4,6.15),(-6.7,7.6),(-5.65,7.25),(-4.5,7.0),(-4.15,6.4),(-6.35,5.8),(-5.9,5.9),
    (-5.95,4.0),(-5.9,4.6),(-5.85,3.5),(-5.8,4.3),(-5.75,5.0),(-5.7,3.8),(-5.65,4.4),(-5.6,3.6),(-5.55,4.9),(-5.5,4.1),(-5.45,3.7),(-5.4,4.5),(-5.35,5.3),(-5.3,3.9),(-5.25,4.3),(-5.2,3.5),(-5.15,4.7),(-5.1,4.0),(-5.05,3.6),(-5.0,4.4),(-4.95,5.1),(-4.9,3.8),(-4.85,4.2),(-4.8,3.4),(-4.75,4.6),(-4.7,3.9),(-4.65,4.3),(-4.6,5.0),(-4.55,4.1),(-4.5,3.6),(-4.45,4.5),(-4.4,4.0),(-4.35,4.8),(-4.3,4.2),(-4.25,3.7),(-4.2,4.4),(-4.15,4.0),(-4.12,4.7),(-4.1,3.6),(-4.18,5.0),
    (-6.05,4.0),(-6.0,3.9),(-5.95,4.3),(-5.9,3.9),(-6.1,4.25),(-5.85,4.1),(-6.15,3.8),(-5.8,3.7),(-4.3,4.1),(-4.25,4.05),(-4.35,4.3),(-4.4,4.35),(-4.2,3.95),(-4.5,4.25),(-5.6,3.4),(-5.3,3.35),(-5.0,3.5),(-4.7,3.45),(-6.3,3.5),(-6.6,3.3),(-5.45,5.0),(-4.85,4.8),
    (-6.98,3.95),(-6.92,4.35),(-6.87,3.62),(-6.82,4.12),(-6.77,4.62),(-6.72,3.82),(-6.67,4.25),(-6.62,3.58),(-6.57,4.72),(-6.52,4.05),(-6.47,3.72),(-6.42,4.42),(-6.37,3.88),(-6.32,4.55),(-6.27,4.15),(-6.22,3.65),(-6.17,4.32),(-6.12,4.68),(-6.07,3.78),(-6.02,4.38),
    (-5.97,4.62),(-5.92,4.18),(-5.87,3.75),(-5.82,4.48),(-5.77,4.05),(-5.72,4.72),(-5.67,3.92),(-5.62,4.28),(-5.57,3.68),(-5.52,4.55),(-5.47,4.12),(-5.42,3.82),(-5.37,4.38),(-5.32,4.72),(-5.27,3.72),(-5.22,4.22),(-5.17,3.95),(-5.12,4.52),(-5.07,4.15),(-5.02,3.78),(-4.97,4.32),(-4.92,4.62),(-4.87,3.92),(-4.82,4.35),(-4.77,4.08),(-4.72,4.75),(-4.67,3.88),(-4.62,4.45),(-4.57,4.18),(-4.52,3.82),(-4.47,4.62),(-4.42,4.15),(-4.37,3.92),(-4.32,4.52),(-4.27,4.28),(-4.23,3.85),(-4.19,4.58),(-4.16,4.22),(-4.13,4.42),(-4.11,3.95),(-4.09,4.15),(-4.14,4.85),(-4.21,4.75),(-4.24,4.45),(-4.29,4.9),(-4.39,4.65),(-4.48,4.9),(-4.58,4.75),(-4.84,4.95),(-5.09,4.85),(-5.29,5.05),(-5.54,4.98),(-5.79,5.15),(-6.04,5.05),(-6.29,4.88),(-6.54,5.25),(-6.79,5.05),
    (-6.02,4.1),(-5.98,3.85),(-6.08,4.08),(-5.93,4.02),(-5.88,4.25),(-6.12,3.98),(-6.18,4.12),(-5.84,3.88),
    (-6.95,4.42),(-6.85,4.02),(-6.75,4.35),(-6.65,4.85),(-6.55,3.78),(-6.45,4.25),(-6.35,4.65),(-6.25,4.05),(-6.15,4.45),(-6.05,4.75),(-5.95,4.15),(-5.85,4.55),(-5.75,4.32),(-5.65,4.82),(-5.55,4.05),(-5.45,4.42),(-5.35,3.88),(-5.25,4.62),(-5.15,4.25),(-5.05,4.85),(-4.95,3.95),(-4.85,4.45),(-4.75,4.25),(-4.65,4.65),(-4.55,3.95),(-4.45,4.35),(-4.35,4.55),(-4.25,4.12),(-4.17,4.35),(-4.12,4.05),(-4.08,4.45),(-4.14,3.82),(-4.2,4.15),(-4.31,3.75),(-4.42,3.78),(-4.61,3.62),(-4.81,3.72),(-5.01,3.82),(-5.21,3.72),(-5.41,3.62),(-5.61,3.88),(-5.81,3.52),(-6.01,3.65),(-6.21,3.85),(-6.41,4.0),(-6.61,3.95),(-6.81,3.55),(-7.01,3.62),
    (-6.02,3.95),(-5.96,4.05),(-5.91,3.8),(-6.09,3.88),(-5.99,4.18),(-6.05,4.3),(-5.94,4.42),(-6.13,4.55),(-4.27,3.95),(-4.33,4.22),(-4.22,4.25),(-4.38,4.45),(-4.46,4.05),(-4.53,4.35),(-4.69,4.15),(-4.9,4.05),(-5.1,4.1),(-5.3,4.2),(-5.5,4.28),(-5.7,4.15),
    (-5.45,5.25),(-5.05,5.35),(-4.65,5.25),(-4.35,5.15),(-4.2,5.3),(-5.85,5.35),(-6.25,5.35),(-6.85,4.95),(-7.25,4.7)]

# bottom panels: (vertical velocity in m/s, log10 of time scale ratio)
bl_phase_cool = [(-0.4,2.7),(-0.38,3.3),(-0.37,2.3),(-0.36,2.9),(-0.35,3.45),(-0.34,2.5),(-0.33,2.8),(-0.32,3.1),(-0.31,2.4),(-0.3,2.65),(-0.29,3.0),(-0.28,2.2),(-0.27,2.55),(-0.26,2.85),(-0.25,2.35),(-0.24,2.6),(-0.23,3.2),(-0.22,2.45),(-0.21,2.1),(-0.2,2.7),(-0.19,2.0),(-0.42,2.05),(-0.43,1.85),(-0.39,1.95),(-0.35,2.15),(-0.33,3.5),(-0.3,3.3),(-0.27,3.05),(-0.45,2.6),(-0.44,3.0),
    (-0.12,2.5),(-0.11,3.0),(-0.1,3.3),(-0.09,3.6),(-0.085,3.9),(-0.08,4.1),(-0.075,4.3),(-0.07,4.6),(-0.065,4.85),(-0.06,4.5),(-0.1,3.8),(-0.12,3.4),(-0.14,3.0),(-0.15,2.6),(-0.08,2.8),(-0.05,2.5),(-0.06,3.2),(-0.13,4.2),(-0.07,3.5),
    (-0.36,6.0),(-0.34,5.95),(-0.35,5.85),(-0.38,5.2),(-0.3,5.5),(-0.26,5.6),(-0.13,5.5),(-0.18,5.1),(-0.3,4.75),(-0.22,4.3),(-0.33,4.6),(-0.14,4.8),(-0.42,4.5),(-0.4,3.8),(-0.27,3.9),(-0.21,4.0),(-0.6,4.1),(-0.35,6.35),
    (0.1,3.2),(0.12,3.6),(0.13,4.0),(0.14,4.35),(0.15,4.6),(0.16,5.0),(0.17,5.3),(0.19,5.6),(0.2,5.8),(0.12,4.8),(0.1,4.2),(0.08,3.5),(0.15,3.9),(0.18,4.3),(0.2,4.1),(0.22,3.8),(0.18,3.3),(0.22,2.8),(0.2,3.5),
    (-0.25,0.8),(-0.2,0.55),(-0.15,0.4),(-0.1,0.3),(-0.05,0.2),(-0.22,1.1),(-0.18,0.7),(-0.12,0.5),(-0.08,0.35),(-0.03,0.15),(0.0,0.1),(0.05,0.2),(0.1,0.35),(0.15,0.5),(0.2,0.7),(0.25,0.9),(0.28,1.5),(0.3,2.0),(0.27,2.1),(0.25,1.9),(0.35,1.9),(0.32,1.7),(0.24,2.05),(-0.05,1.0),(0.05,1.2),(-0.15,1.5),(0.15,1.4),(-0.3,1.3),(-0.28,0.9),(-0.35,0.65),(-0.32,1.6),
    (0.0,-0.1),(0.02,-0.3),(0.04,-0.5),(0.06,-0.55),(0.08,-0.4),(0.1,-0.3),(0.12,-0.2),(0.14,-0.1),(0.16,-0.05),(0.03,-0.6),(0.05,-0.7),(0.07,-0.45),(0.09,-0.35),(0.11,-0.25),(0.13,-0.15),(0.01,-0.75),(0.06,-0.2),(-0.02,-0.2),(-0.04,-0.1),(0.18,0.0),(-0.1,-0.05),(-0.15,0.05),
    (0.0,-1.0),(0.0,-1.3),(-0.005,-1.6),(0.0,-1.9),(0.005,-2.2),(0.0,-2.5),(0.0,-3.6),(-0.01,-0.9),
    (0.3,1.2),(0.35,0.9),(0.4,0.7),(0.45,0.55),(0.5,0.45),(0.55,0.4),(0.6,0.35),(0.65,0.3),(0.7,0.35),(0.75,0.3),(0.8,0.25),(0.85,0.3),(0.9,0.25),(0.95,0.3),(1.0,0.25),(1.02,0.28),(0.33,0.6),(0.38,0.5),(0.42,0.3),(0.48,0.25),(0.53,0.2),(0.58,0.2),(0.63,0.15),(0.68,0.4),(0.72,0.5),(0.78,0.6),(0.82,0.45),(0.87,0.5),(0.93,0.35),(0.98,0.2),(0.45,1.0),(0.5,0.8),(0.6,0.7),(0.65,0.9),(0.3,0.15),(0.35,0.25),(0.28,-0.1),(0.35,-0.05),(0.45,0.1),(0.2,-0.15),(0.25,-0.2),
    (-0.7,1.2),(-0.68,2.2),(-0.65,1.6),(-0.62,0.8),(-0.6,1.9),(-0.58,1.1),(-0.55,2.4),(-0.52,0.7),(-0.5,1.5),(-0.48,1.9),(-0.46,0.9),(-0.45,1.3),(-0.42,0.6),(-0.4,1.7),(-0.38,1.0),(-0.36,0.4),(-0.34,1.2),(-0.3,0.5),(-0.72,2.0),(-0.66,2.6),(-0.55,0.5),(-0.5,0.45),(-0.4,0.35),(-0.62,3.1),(-0.65,1.0),(-0.25,0.0),(-0.1,-0.2),
    (-0.395,2.48),(-0.385,2.85),(-0.375,3.12),(-0.365,2.62),(-0.355,2.35),(-0.345,3.02),(-0.335,2.72),(-0.325,2.42),(-0.315,2.92),(-0.305,3.18),(-0.295,2.52),(-0.285,2.78),(-0.275,2.32),(-0.265,2.68),(-0.255,3.12),(-0.245,2.42),(-0.235,2.82),(-0.225,2.25),(-0.215,2.58),(-0.205,2.38),(-0.41,3.35),(-0.37,3.55),(-0.34,2.25),(-0.31,2.08),(-0.28,2.95),(-0.25,2.6),(-0.22,2.95),(-0.33,2.62),(-0.36,2.75),(-0.39,2.6),
    (-0.095,3.45),(-0.088,3.72),(-0.082,3.95),(-0.078,4.22),(-0.072,4.45),(-0.068,4.7),(-0.063,4.95),(-0.105,3.15),(-0.115,2.85),(-0.125,2.65),
    (0.105,3.4),(0.115,3.8),(0.125,4.15),(0.135,4.5),(0.145,4.75),(0.155,5.15),(0.165,5.45),(0.175,5.7),(0.185,5.75),(0.11,4.55),(0.16,4.25),(0.19,3.7),(0.21,3.2),(0.23,2.5),
    (0.26,1.75),(0.28,1.85),(0.3,1.6),(0.32,1.95),(0.34,1.55),(0.29,1.3),(0.31,1.42),(0.27,1.62),(0.33,1.25),(0.36,1.7),(0.38,1.45),(0.23,1.65),(0.25,2.2),
    (-0.28,0.45),(-0.24,0.62),(-0.2,0.38),(-0.16,0.28),(-0.12,0.22),(-0.06,0.12),(-0.22,0.72),(-0.26,0.95),(-0.3,0.72),(-0.18,0.15),
    (0.015,-0.55),(0.025,-0.68),(0.035,-0.42),(0.045,-0.62),(0.055,-0.38),(0.065,-0.48),(0.075,-0.3),(0.085,-0.52),(0.095,-0.22),(0.105,-0.4),(0.115,-0.12),(0.125,-0.32),(0.135,-0.05),(0.145,-0.22),(0.02,-0.85),(0.04,-0.75),(0.01,-0.95),
    (0.31,0.95),(0.36,0.72),(0.41,0.52),(0.46,0.42),(0.51,0.35),(0.56,0.28),(0.61,0.52),(0.66,0.45),(0.71,0.2),(0.76,0.45),(0.81,0.35),(0.86,0.2),(0.91,0.42),(0.96,0.38),(0.4,0.95),(0.55,0.6),(0.75,0.15),(0.85,0.62),
    (-0.57,1.75),(-0.53,2.1),(-0.49,1.25),(-0.47,2.35),(-0.43,1.55),(-0.41,0.95),(-0.39,1.35),(-0.37,0.75),(-0.35,1.05),(-0.33,0.85),(-0.63,1.4),(-0.67,0.9),
    (-0.38,2.45),(-0.35,2.62),(-0.32,2.55),(-0.29,2.35),(-0.26,2.42),(-0.23,2.55),(-0.37,2.05),(-0.31,2.75),(-0.28,2.6),(-0.34,2.85),
    (-0.24,0.35),(-0.2,0.22),(-0.16,0.12),(-0.12,0.08),(-0.26,0.55),(-0.22,0.45),(-0.3,0.3),(-0.34,0.45),(-0.14,0.6),(-0.1,0.15),
    (0.28,1.05),(0.3,0.85),(0.33,0.75),(0.36,0.55),(0.4,0.45),(0.44,0.4),(0.5,0.3),(0.55,0.45),(0.6,0.25),(0.65,0.2),(0.7,0.25),(0.8,0.4),(0.9,0.35),(0.95,0.15),
    (0.02,-0.45),(0.04,-0.35),(0.06,-0.65),(0.08,-0.25),(0.1,-0.15),(0.12,-0.05),(0.15,0.1),(0.17,0.15)]

bl_mix_cool = [(-0.5,1.2),(-0.48,1.6),(-0.47,0.9),(-0.45,1.4),(-0.44,1.9),(-0.42,1.1),(-0.4,1.5),(-0.39,0.8),(-0.38,1.3),(-0.37,1.7),(-0.35,1.0),(-0.34,1.45),(-0.33,2.0),(-0.32,1.2),(-0.31,0.7),(-0.3,1.6),(-0.29,1.1),(-0.28,1.9),(-0.27,1.35),(-0.26,0.9),(-0.25,1.7),(-0.24,2.2),(-0.23,1.2),(-0.22,1.5),(-0.21,0.8),(-0.2,1.9),(-0.19,1.3),(-0.18,2.4),(-0.17,1.0),(-0.16,1.6),(-0.15,2.0),(-0.14,1.2),(-0.13,0.7),(-0.12,1.5),(-0.11,1.0),(-0.1,1.8),(-0.09,0.6),(-0.08,1.2),(-0.07,0.9),(-0.06,0.4),(-0.05,1.0),(-0.04,0.3),(-0.03,0.6),(-0.02,0.2),
    (-0.22,2.6),(-0.2,2.9),(-0.18,3.1),(-0.25,2.5),(-0.15,2.7),(-0.12,2.3),(-0.28,2.4),(-0.3,2.1),(-0.35,2.3),(-0.4,2.0),(-0.45,2.2),(-0.24,1.0),(-0.19,0.6),(-0.16,0.4),(-0.14,0.95),(-0.11,0.5),(-0.27,0.6),(-0.33,0.55),(-0.23,1.85),(-0.17,1.75),(-0.21,1.25),
    (0.0,0.5),(0.02,0.8),(0.04,1.1),(0.05,0.4),(0.06,1.4),(0.07,0.7),(0.08,1.0),(0.09,1.7),(0.1,1.2),(0.11,0.6),(0.12,1.5),(0.13,1.9),(0.14,0.9),(0.15,1.3),(0.16,1.7),(0.17,2.1),(0.18,1.1),(0.19,1.6),(0.2,2.0),(0.21,2.4),(0.22,1.4),(0.23,0.9),(0.24,1.8),(0.25,1.2),(0.03,1.5),(0.08,1.9),(0.12,2.2),(0.16,2.4),
    (0.19,2.6),(0.2,2.8),(0.21,3.0),(0.2,3.3),(0.21,3.5),(0.2,3.8),(0.19,2.7),(0.22,2.9),(0.18,2.5),(0.21,3.2),(0.19,4.0),(0.185,6.0),
    (0.3,1.6),(0.33,1.1),(0.35,2.0),(0.38,0.9),(0.4,1.4),(0.42,2.5),(0.45,1.7),(0.48,1.0),(0.5,1.3),(0.52,2.2),(0.55,0.8),(0.58,1.6),(0.6,2.3),(0.63,1.2),(0.66,1.8),(0.7,2.5),(0.72,1.4),(0.75,1.9),(0.8,1.1),(0.83,2.0),(0.85,2.8),(0.9,1.5),(0.95,1.9),(1.0,1.3),(1.02,1.4),(0.7,4.9),(0.78,3.0),(0.32,0.7),(0.45,0.6),(0.27,2.3),(0.3,2.7),(0.88,1.2),(0.96,1.2),
    (-0.7,2.0),(-0.68,1.6),(-0.66,3.1),(-0.64,1.3),(-0.62,2.4),(-0.6,1.1),(-0.58,1.8),(-0.56,2.6),(-0.54,1.4),(-0.52,0.9),(-0.55,3.3),(-0.6,0.8),(-0.65,2.2),(-0.72,1.8),
    (-0.05,-0.1),(-0.02,-0.3),(0.0,-0.5),(0.01,-0.8),(0.0,-1.1),(-0.01,-1.4),(0.0,-1.7),(0.0,-2.3),(0.03,-0.2),(0.05,-0.1),(-0.03,0.0),(0.02,0.1),(-0.01,-0.6),(0.04,-0.4),
    (-0.25,4.2),(-0.4,3.2),(-0.3,3.4),
    (-0.495,1.42),(-0.485,1.05),(-0.475,1.72),(-0.465,1.25),(-0.455,0.95),(-0.445,1.62),(-0.435,1.32),(-0.425,1.85),(-0.415,1.08),(-0.405,1.52),(-0.395,1.22),(-0.385,1.72),(-0.375,0.98),(-0.365,1.45),(-0.355,1.82),(-0.345,1.15),(-0.335,1.62),(-0.325,1.35),(-0.315,1.92),(-0.305,1.05),(-0.295,1.48),(-0.285,1.25),(-0.275,1.72),(-0.265,1.45),(-0.255,1.12),(-0.245,1.58),(-0.235,1.95),(-0.225,1.32),(-0.215,1.72),(-0.205,1.05),(-0.195,1.52),(-0.185,1.82),(-0.175,1.35),(-0.165,2.12),(-0.155,1.45),(-0.145,1.72),(-0.135,1.05),(-0.125,1.85),(-0.115,1.35),(-0.105,1.55),(-0.095,1.05),(-0.085,1.45),(-0.075,0.75),(-0.065,1.15),(-0.055,0.65),(-0.045,0.82),(-0.035,0.45),(-0.025,0.55),(-0.015,0.35),(-0.005,0.25),
    (-0.21,2.15),(-0.19,2.35),(-0.17,2.55),(-0.2,2.05),(-0.18,1.65),(-0.16,1.92),(-0.14,2.25),(-0.13,1.55),(-0.23,2.35),(-0.26,2.05),(-0.29,1.75),(-0.32,1.62),(-0.36,1.25),(-0.44,1.25),(-0.38,2.15),
    (0.005,0.75),(0.015,0.95),(0.025,1.25),(0.035,0.65),(0.045,1.35),(0.055,0.95),(0.065,1.65),(0.075,1.25),(0.085,1.45),(0.095,0.95),(0.105,1.75),(0.115,1.35),(0.125,1.05),(0.135,1.65),(0.145,1.45),(0.155,1.95),(0.165,1.25),(0.175,1.85),(0.185,1.45),(0.195,2.25),(0.205,1.75),(0.215,2.05),(0.225,1.15),(0.235,1.55),(0.245,1.35),
    (0.195,2.95),(0.205,3.15),(0.2,2.45),(0.215,2.65),(0.19,3.45),(0.205,3.6),(0.2,2.2),(0.21,2.8),
    (0.27,1.45),(0.29,1.85),(0.31,1.25),(0.34,1.55),(0.37,1.35),(0.39,1.8),(0.43,1.2),(0.47,1.55),(0.53,1.05),(0.57,1.35),(0.62,1.65),(0.68,1.15),(0.74,1.55),(0.79,1.85),(0.86,1.35),(0.92,1.75),(0.98,1.55),(0.35,1.0),(0.42,0.85),(0.5,1.8),
    (-0.53,1.65),(-0.57,1.2),(-0.61,1.55),(-0.63,1.9),(-0.67,1.35),(-0.51,2.05),
    (0.0,-0.25),(-0.005,-0.9),(0.005,-1.25),(0.0,-1.5),(-0.005,-2.0),(0.01,-0.4),(0.02,-0.1),(-0.01,-0.15),(-0.02,0.05),
    (-0.42,1.38),(-0.39,1.62),(-0.36,1.12),(-0.33,1.38),(-0.3,1.22),(-0.27,1.55),(-0.24,1.35),(-0.21,1.62),(-0.18,1.42),(-0.15,1.55),(-0.12,1.25),(-0.09,1.35),(-0.06,0.82),(-0.03,0.72),
    (-0.41,1.75),(-0.38,1.45),(-0.35,1.62),(-0.32,1.82),(-0.29,1.35),(-0.26,1.85),(-0.23,1.52),(-0.2,1.68),(-0.17,1.48),(-0.14,1.82),(-0.11,1.62),(-0.08,1.05),(-0.05,0.55),
    (-0.46,0.75),(-0.43,0.62),(-0.4,1.08),(-0.37,1.25),(-0.34,0.85),(-0.31,0.95),(-0.28,1.02),(-0.25,1.25),(-0.22,0.95),(-0.19,1.05),(-0.16,1.15),(-0.13,0.85),(-0.1,0.75),
    (0.03,0.95),(0.06,1.15),(0.09,1.35),(0.12,1.25),(0.15,1.55),(0.18,1.35),(0.21,1.55),(0.24,1.55),(0.04,0.55),(0.07,0.85),(0.1,0.85),(0.13,1.15),(0.16,1.05),(0.19,1.25),(0.22,1.75),(0.2,1.95),(0.17,1.55),(0.14,1.95),(0.11,1.55),(0.08,1.3)]

br_dep_sed = [(-0.3,-0.5),(-0.28,-0.8),(-0.27,-0.2),(-0.26,-1.1),(-0.25,-0.6),(-0.24,0.1),(-0.23,-0.9),(-0.22,-0.4),(-0.21,-1.3),(-0.2,-0.7),(-0.19,0.2),(-0.18,-0.5),(-0.17,-1.0),(-0.16,-0.3),(-0.15,0.4),(-0.14,-0.8),(-0.13,-0.1),(-0.12,-0.5),(-0.11,-1.2),(-0.1,0.0),(-0.09,-0.6),(-0.08,0.3),(-0.07,-0.3),(-0.06,-0.9),(-0.05,0.1),(-0.04,-0.4),(-0.03,0.5),(-0.02,-0.2),(-0.01,-0.7),(0.0,0.2),(0.01,-0.3),(0.02,0.4),(0.03,-0.5),(0.04,0.0),(0.05,-1.0),(0.06,0.3),(0.07,-0.4),(0.08,0.6),(0.09,-0.2),(0.1,-0.7),(0.11,0.1),(0.12,-0.3),(0.13,0.5),(0.14,-1.1),(0.15,-0.1),(0.16,0.3),(0.17,-0.6),(0.18,0.0),(0.19,-0.4),(0.2,0.4),(0.21,-0.8),(0.22,-0.2),(0.23,0.1),(0.24,-0.5),(0.25,0.2),
    (-0.29,-0.65),(-0.27,-0.45),(-0.25,-0.85),(-0.23,-0.6),(-0.21,-0.5),(-0.19,-0.9),(-0.17,-0.7),(-0.24,-1.0),(-0.2,-1.1),(-0.16,-0.55),
    (-0.2,0.5),(-0.1,0.6),(0.0,0.7),(0.1,0.8),(0.2,0.6),(-0.15,0.7),(0.05,0.55),(0.15,0.75),(-0.05,0.45),(0.22,0.9),(0.25,0.5),
    (-0.27,-1.5),(-0.25,-1.8),(-0.22,-2.0),(-0.2,-1.6),(-0.18,-2.3),(-0.15,-1.9),(-0.12,-2.2),(-0.1,-1.7),(-0.08,-2.4),(-0.05,-1.5),(0.0,-1.4),(0.05,-1.6),(0.1,-2.1),(0.12,-1.5),(0.15,-2.0),(0.18,-1.8),(0.2,-1.4),(0.22,-2.1),(-0.3,-1.3),(-0.28,-2.9),(-0.17,-2.7),(-0.11,-2.6),(0.12,-3.0),(-0.32,-1.5),
    (0.28,0.5),(0.3,-0.2),(0.32,0.8),(0.35,-0.4),(0.38,0.3),(0.4,-0.1),(0.42,0.6),(0.45,-0.5),(0.48,0.1),(0.5,0.9),(0.52,-0.3),(0.55,-0.6),(0.58,-0.2),(0.6,-0.4),(0.62,-0.3),(0.65,-0.5),(0.68,-0.35),(0.7,-0.3),(0.72,-0.4),(0.75,-0.25),(0.78,-0.15),(0.8,-0.3),(0.82,-0.45),(0.85,-0.55),(0.88,-0.4),(0.9,-0.6),(0.93,-0.3),(0.95,-0.2),(0.98,-0.4),(1.0,-0.3),(1.02,-0.1),(0.5,-1.25),(0.83,-0.95),(0.88,-1.45),(0.92,-1.5),(0.76,-1.7),(0.56,1.9),(0.45,1.3),(0.35,1.1),
    (-0.7,-0.3),(-0.68,-0.5),(-0.66,0.05),(-0.64,-0.35),(-0.62,-0.6),(-0.6,-0.2),(-0.58,0.0),(-0.56,-0.4),(-0.54,-0.1),(-0.52,-0.5),(-0.5,0.1),(-0.48,-0.3),(-0.46,-0.15),(-0.44,-0.6),(-0.42,0.0),(-0.4,-0.35),(-0.38,0.2),(-0.36,-0.5),(-0.34,-0.2),(-0.32,0.3),(-0.69,-1.05),(-0.55,-1.5),(-0.5,-1.6),(-0.44,-1.7),(-0.65,2.2),(-0.5,2.3),(-0.45,2.15),(-0.4,1.7),(-0.7,1.0),(-0.6,0.9),(-0.55,0.9),(-0.3,1.5),(-0.38,1.2),
    (-0.25,1.0),(-0.1,1.1),(0.05,1.2),(0.15,1.0),(0.3,1.3),(0.4,1.1),(-0.3,0.8),(0.25,1.0),
    (-0.295,-0.35),(-0.285,-0.62),(-0.275,-0.95),(-0.265,-0.42),(-0.255,-0.72),(-0.245,-0.28),(-0.235,-1.15),(-0.225,-0.65),(-0.215,-0.25),(-0.205,-0.85),(-0.195,-0.48),(-0.185,-1.05),(-0.175,-0.32),(-0.165,-0.72),(-0.155,-0.15),(-0.145,-0.55),(-0.135,-0.95),(-0.125,-0.25),(-0.115,-0.62),(-0.105,-0.35),(-0.095,-0.85),(-0.085,-0.15),(-0.075,-0.55),(-0.065,-0.28),(-0.055,0.05),(-0.045,-0.62),(-0.035,-0.18),(-0.025,0.25),(-0.015,-0.45),(-0.005,0.05),(0.005,-0.55),(0.015,0.15),(0.025,-0.25),(0.035,0.35),(0.045,-0.72),(0.055,0.05),(0.065,-0.35),(0.075,0.25),(0.085,-0.55),(0.095,0.15),(0.105,-0.25),(0.115,0.45),(0.125,-0.62),(0.135,0.05),(0.145,-0.35),(0.155,0.25),(0.165,-0.85),(0.175,0.15),(0.185,-0.25),(0.195,0.05),(0.205,-0.55),(0.215,0.25),(0.225,-0.35),(0.235,-0.95),(0.245,0.05),
    (-0.26,-0.55),(-0.22,-0.78),(-0.18,-0.62),(-0.24,-0.38),(-0.2,-0.22),(-0.28,-1.05),(-0.23,-1.35),(-0.19,-1.25),(-0.16,-1.35),(-0.13,-1.45),(-0.09,-1.25),(-0.05,-1.15),(0.02,-1.05),(0.08,-1.25),(0.14,-1.35),(0.19,-1.15),(0.23,-1.45),(0.16,-0.95),
    (0.26,0.35),(0.29,-0.05),(0.31,0.25),(0.33,0.55),(0.36,0.15),(0.39,0.45),(0.41,0.25),(0.43,0.65),(0.46,0.35),(0.49,0.55),(0.34,0.85),(0.27,0.75),(0.3,0.05),(0.37,-0.2),
    (-0.1,0.45),(0.0,0.45),(0.1,0.55),(-0.2,0.35),(0.2,0.25),(-0.05,0.7),(0.07,0.65),(0.17,0.55),
    (-0.35,-0.75),(-0.33,0.05),(-0.31,-0.25),(-0.37,-0.05),(-0.39,-0.6),(-0.41,-0.25),(-0.45,0.2),(-0.47,-0.55),(-0.51,-0.2),(-0.53,0.2),(-0.57,-0.25),(-0.61,0.1),(-0.63,-0.15),(-0.67,-0.25),
    (0.53,-0.45),(0.57,-0.35),(0.61,-0.55),(0.64,-0.2),(0.67,-0.45),(0.71,-0.2),(0.74,-0.4),(0.77,-0.3),(0.79,-0.5),(0.84,-0.25),(0.87,-0.35),(0.92,-0.45),(0.97,-0.3),(1.01,-0.2),
    (-0.29,-0.25),(-0.27,-0.7),(-0.25,-0.35),(-0.23,-0.2),(-0.21,-0.95),(-0.19,-0.3),(-0.17,-0.45),(-0.15,-0.75),(-0.13,-0.35),(-0.11,-0.85),(-0.09,-0.4),(-0.07,-0.7),(-0.05,-0.25),(-0.03,-0.55),(-0.01,-0.1),(0.01,-0.6),(0.03,-0.15),(0.05,-0.45),(0.07,0.05),(0.09,-0.6),(0.11,-0.4),(0.13,-0.15),(0.15,-0.65),(0.17,-0.2),(0.19,0.15),(0.21,-0.45),(0.23,-0.7),(0.25,-0.3),
    (-0.28,0.0),(-0.24,0.25),(-0.2,0.15),(-0.16,0.1),(-0.12,0.3),(-0.08,-0.05),(-0.04,0.3),(0.0,-0.05),(0.04,0.2),(0.08,0.1),(0.12,0.25),(0.16,-0.05),(0.2,0.1),(0.24,0.3),
    (-0.26,-1.3),(-0.22,-1.15),(-0.18,-1.45),(-0.14,-1.6),(-0.1,-1.4),(-0.06,-1.8),(-0.02,-1.25),(0.04,-1.35),(0.09,-1.7),(0.13,-1.15),(0.17,-1.55),(0.21,-1.25),(0.24,-1.7),(-0.24,-2.25),(0.19,-2.3)]

br_mix_sed = [(-0.25,1.5),(-0.24,2.0),(-0.23,1.1),(-0.22,2.5),(-0.21,1.7),(-0.2,0.8),(-0.19,2.2),(-0.18,1.3),(-0.17,2.7),(-0.16,1.9),(-0.15,1.0),(-0.14,2.4),(-0.13,1.6),(-0.12,2.9),(-0.11,1.2),(-0.1,2.1),(-0.09,1.5),(-0.08,2.6),(-0.07,1.0),(-0.06,1.9),(-0.05,2.3),(-0.04,1.4),(-0.03,2.8),(-0.02,1.8),(-0.01,2.2),(0.0,1.2),(0.01,2.5),(0.02,1.7),(0.03,3.0),(0.04,2.0),(0.05,1.3),(0.06,2.4),(0.07,1.8),(0.08,2.7),(0.09,1.1),(0.1,2.1),(0.11,1.6),(0.12,2.5),(0.13,1.0),(0.14,2.0),(0.15,1.4),(0.16,2.6),(0.17,1.7),(0.18,1.2),(0.19,2.2),(0.2,1.5),(0.21,1.0),(0.22,1.8),(0.23,1.3),(0.24,0.7),(0.25,1.1),
    (-0.2,1.4),(-0.15,1.8),(-0.1,1.7),(-0.05,1.6),(0.0,2.0),(0.05,1.9),(0.1,1.6),(0.15,1.9),(0.2,1.3),(0.2,2.0),(0.18,1.6),(0.22,1.5),(-0.22,1.9),(-0.12,2.0),(0.08,2.2),(0.12,1.4),(0.02,2.3),(-0.07,2.1),(0.0,2.6),(-0.05,2.5),
    (-0.25,5.0),(-0.19,4.2),(-0.15,3.7),(-0.1,3.4),(-0.07,3.9),(-0.04,3.6),(0.0,3.25),(0.02,3.3),(0.05,3.5),(0.07,4.5),(0.09,3.1),(0.12,2.9),(0.15,3.4),(0.19,3.9),(0.21,3.9),(0.22,3.2),(-0.3,3.4),(-0.18,3.0),(-0.28,2.7),(0.25,2.2),(0.17,3.0),
    (-0.4,0.3),(-0.35,0.1),(-0.32,-0.4),(-0.3,0.6),(-0.28,-0.2),(-0.25,0.2),(-0.22,-0.6),(-0.2,0.0),(-0.17,0.5),(-0.14,-0.3),(-0.1,0.3),(-0.07,-0.5),(-0.05,0.1),(0.0,-0.2),(0.05,0.4),(0.08,-0.6),(0.1,0.0),(0.14,-0.4),(0.17,0.2),(0.2,-0.3),(0.22,-0.7),(0.25,-0.5),(0.24,0.15),(-0.27,-0.9),(-0.12,-1.0),(0.18,-0.9),(-0.2,-2.1),(0.12,-0.2),
    (0.28,0.9),(0.3,0.5),(0.33,1.3),(0.35,0.8),(0.38,0.4),(0.4,1.0),(0.42,0.6),(0.45,1.2),(0.48,0.7),(0.5,1.5),(0.52,0.4),(0.55,0.9),(0.58,1.1),(0.6,0.6),(0.63,0.3),(0.65,1.0),(0.68,0.7),(0.7,0.5),(0.72,2.65),(0.75,1.2),(0.78,0.8),(0.8,1.0),(0.83,0.6),(0.86,0.9),(0.9,2.4),(0.93,0.3),(0.96,1.2),(1.0,0.9),(1.02,2.3),(0.45,1.9),(0.6,2.0),(0.88,1.6),(0.95,0.1),(0.77,-1.2),(0.4,2.0),(0.35,1.6),
    (-0.7,0.4),(-0.68,-0.3),(-0.66,2.0),(-0.64,0.7),(-0.62,1.0),(-0.6,0.2),(-0.58,0.8),(-0.56,1.2),(-0.54,0.5),(-0.52,0.9),(-0.5,1.3),(-0.48,0.3),(-0.46,0.8),(-0.44,0.6),(-0.42,1.1),(-0.5,2.65),(-0.38,1.6),(-0.36,0.9),(-0.34,0.5),(-0.32,1.4),(-0.3,1.0),(-0.67,1.7),(-0.72,0.8),
    (-0.245,1.72),(-0.235,2.25),(-0.225,1.35),(-0.215,2.05),(-0.205,1.62),(-0.195,2.45),(-0.185,1.05),(-0.175,1.85),(-0.165,2.25),(-0.155,1.52),(-0.145,1.95),(-0.135,2.72),(-0.125,1.35),(-0.115,2.35),(-0.105,1.85),(-0.095,2.62),(-0.085,1.42),(-0.075,2.15),(-0.065,2.75),(-0.055,1.72),(-0.045,2.05),(-0.035,2.45),(-0.025,1.55),(-0.015,2.62),(-0.005,1.95),(0.005,2.25),(0.015,1.45),(0.025,2.72),(0.035,1.85),(0.045,2.35),(0.055,2.05),(0.065,1.55),(0.075,2.55),(0.085,1.95),(0.095,2.25),(0.105,1.35),(0.115,2.15),(0.125,1.85),(0.135,2.35),(0.145,1.65),(0.155,2.15),(0.165,1.45),(0.175,1.95),(0.185,2.45),(0.195,1.75),(0.205,1.25),(0.215,1.65),(0.225,2.25),(0.235,1.55),(0.245,1.25),
    (0.195,1.95),(0.205,1.5),(0.215,1.15),(0.21,1.85),(0.19,1.4),(0.185,1.7),(0.225,1.45),(0.2,1.1),(0.215,2.45),(0.18,2.65),
    (-0.2,1.15),(-0.15,1.3),(-0.1,1.25),(-0.05,1.2),(0.0,1.55),(0.05,1.15),(0.1,1.05),(0.15,1.15),(-0.25,1.2),(-0.18,0.95),
    (-0.32,0.85),(-0.28,1.25),(-0.36,0.6),(-0.4,0.9),(-0.44,0.4),(-0.3,0.25),(-0.24,0.45),(-0.18,0.25),(-0.12,0.55),(-0.06,0.35),(0.03,0.6),(0.08,0.25),(0.13,0.45),(0.18,0.55),(0.23,0.35),(0.28,0.6),(0.32,0.9),(0.36,1.15),(0.4,0.75),(0.44,1.0),(0.48,0.5),(0.3,1.15),(0.26,1.45),(0.34,0.35),(0.38,0.95),(0.42,1.35),
    (-0.24,1.85),(-0.21,2.15),(-0.18,1.75),(-0.15,2.05),(-0.12,1.75),(-0.09,2.05),(-0.06,1.55),(-0.03,1.95),(0.0,1.75),(0.03,2.05),(0.06,1.75),(0.09,1.85),(0.12,1.65),(0.15,1.75),(0.18,1.85),(0.21,1.35),(0.24,1.65),
    (-0.23,1.25),(-0.2,1.05),(-0.17,1.55),(-0.14,1.15),(-0.11,1.45),(-0.08,1.25),(-0.05,1.85),(-0.02,1.35),(0.01,1.05),(0.04,1.55),(0.07,1.35),(0.1,1.3),(0.13,1.55),(0.16,1.25),(0.19,1.05),(0.22,1.05),
    (-0.22,2.35),(-0.16,2.45),(-0.1,2.35),(-0.04,2.25),(0.02,2.45),(0.08,2.45),(0.14,2.25),(0.2,2.25),(-0.13,2.55),(0.05,2.65),(0.11,2.75),(-0.01,2.85),
    (-0.26,0.85),(-0.2,0.6),(-0.14,0.75),(-0.08,0.65),(-0.02,0.85),(0.04,0.8),(0.1,0.7),(0.16,0.8),(0.22,0.55),(0.26,0.95),(0.3,0.75),(0.34,1.05)]

labels_tl = [r'$|\mathrm{τ}_{\mathrm{cool}}|$', r'$|\mathrm{τ}_{\mathrm{phase}}|$', r'$|\mathrm{τ}_{\mathrm{mix{,}RHi}}|$']
labels_tr = [r'$|\mathrm{τ}_{\mathrm{sed}}|$', r'$|\mathrm{τ}_{\mathrm{growth}}|$', r'$|\mathrm{τ}_{\mathrm{mix{,}q}_{\mathrm{c}}}|$']
labels_bl = [r'$|\mathrm{τ}_{\mathrm{phase}}/\mathrm{τ}_{\mathrm{cool}}|$', r'$|\mathrm{τ}_{\mathrm{mix{,}RHi}}/\mathrm{τ}_{\mathrm{cool}}|$']
labels_br = [r'$|\mathrm{τ}_{\mathrm{dep}}/\mathrm{τ}_{\mathrm{sed}}|$', r'$|\mathrm{τ}_{\mathrm{mix{,}q}_{\mathrm{c}}}/\mathrm{τ}_{\mathrm{sed}}|$']

RED, GREEN, BLUE = '#ff0000', '#00ee00', '#0000ff'
STY = {RED: ('s', 3.3), GREEN: ('o', 3.5), BLUE: ('^', 4.0)}
FS = 20

fig = plt.figure(figsize=(17.32, 14.84), dpi=100)
ax_tl = fig.add_axes([0.0872, 0.5708, 0.3845, 0.4204])
ax_tr = fig.add_axes([0.5947, 0.5708, 0.3857, 0.4204])
ax_bl = fig.add_axes([0.0872, 0.0526, 0.3845, 0.4211])
ax_br = fig.add_axes([0.5947, 0.0526, 0.3857, 0.4211])

def logfmt(v, pos=None):
    return '%g' % v

def lin_fmt(v, pos=None):
    if abs(v) < 1e-12:
        v = 0.0
    return ('%g' % v).replace('-', '\u2212')

def series(ax, pts, color, label, logx):
    a = np.array(pts, dtype=float)
    x = 10.0 ** a[:, 0] if logx else a[:, 0]
    y = 10.0 ** a[:, 1]
    m, ms = STY[color]
    h, = ax.plot(x, y, ls='none', marker=m, ms=ms, mfc=color, mec='none',
                 color=color, label=label, zorder=6)
    return h

def style(ax, logx):
    ax.set_yscale('log')
    if logx:
        ax.set_xscale('log')
        ax.xaxis.set_major_locator(LogLocator(base=10, subs=(1.0,), numticks=30))
        ax.xaxis.set_minor_locator(LogLocator(base=10, subs=np.arange(2, 10), numticks=30))
        ax.xaxis.set_major_formatter(FuncFormatter(logfmt))
        ax.xaxis.set_minor_formatter(NullFormatter())
    else:
        ax.xaxis.set_major_locator(MultipleLocator(0.25))
        ax.xaxis.set_minor_locator(MultipleLocator(0.05))
        ax.xaxis.set_major_formatter(FuncFormatter(lin_fmt))
    ax.yaxis.set_major_locator(LogLocator(base=10, subs=(1.0,), numticks=30))
    ax.yaxis.set_minor_locator(LogLocator(base=10, subs=np.arange(2, 10), numticks=30))
    ax.yaxis.set_major_formatter(FuncFormatter(logfmt))
    ax.yaxis.set_minor_formatter(NullFormatter())
    ax.tick_params(which='both', direction='in', top=True, right=True, labelsize=FS)
    ax.tick_params(which='major', length=5.5, width=1.2, pad=8.5)
    ax.tick_params(which='minor', length=3.0, width=1.0)
    for s in ax.spines.values():
        s.set_linewidth(1.9)
    ax.set_axisbelow(True)
    ax.grid(True, which='major', color='#9a9a9a', linestyle=(0, (1, 3)), linewidth=1.0)

def legend(ax, handles):
    leg = ax.legend(handles=handles, loc='upper right', bbox_to_anchor=(0.945, 1.0),
                    markerfirst=False, numpoints=1, fontsize=FS, frameon=True,
                    facecolor='white', edgecolor='none', framealpha=1, fancybox=False,
                    handlelength=1.6, handletextpad=0.8, labelspacing=-0.1,
                    borderpad=0.25, borderaxespad=0.0)
    leg.set_zorder(5)
    return leg

# ---- top left
style(ax_tl, True)
hs = [series(ax_tl, tl_cool, RED, labels_tl[0], True),
      series(ax_tl, tl_phase, GREEN, labels_tl[1], True),
      series(ax_tl, tl_mix, BLUE, labels_tl[2], True)]
ax_tl.set_xlim(1e-10, 1e-4)
ax_tl.set_ylim(1e2, 1e10)
legend(ax_tl, hs)
ax_tl.set_xlabel('ice mass mixing ratio (kg/kg)', fontsize=FS)
ax_tl.set_ylabel('time scales |τ| (s)', fontsize=FS)

# ---- top right
style(ax_tr, True)
hs = [series(ax_tr, tr_sed, RED, labels_tr[0], True),
      series(ax_tr, tr_growth, GREEN, labels_tr[1], True),
      series(ax_tr, tr_mix, BLUE, labels_tr[2], True)]
ax_tr.set_xlim(1e-10, 1e-4)
ax_tr.set_ylim(1e1, 1e8)
legend(ax_tr, hs)
ax_tr.set_xlabel('ice mass mixing ratio (kg/kg)', fontsize=FS)
ax_tr.set_ylabel('time scales |τ| (s)', fontsize=FS)

# ---- bottom left
style(ax_bl, False)
hs = [series(ax_bl, bl_phase_cool, RED, labels_bl[0], False),
      series(ax_bl, bl_mix_cool, GREEN, labels_bl[1], False)]
ax_bl.axhline(1.0, color='black', lw=2.0, zorder=7)
ax_bl.set_xlim(-1.5, 1.5)
ax_bl.set_ylim(1e-4, 1e7)
legend(ax_bl, hs)
ax_bl.text(0.015, 0.965, 'dominant cooling time scale', transform=ax_bl.transAxes,
           fontsize=18, ha='left', va='center', zorder=8)
ax_bl.text(0.015, 0.030, 'dominant growth/mixing time scale', transform=ax_bl.transAxes,
           fontsize=18, ha='left', va='center', zorder=8)
ax_bl.set_xlabel('vertical velocity (m/s)', fontsize=FS)
ax_bl.set_ylabel(r'time scale ratios $|\mathrm{τ}_1/\mathrm{τ}_2|$', fontsize=FS)

# ---- bottom right
style(ax_br, False)
hs = [series(ax_br, br_dep_sed, RED, labels_br[0], False),
      series(ax_br, br_mix_sed, GREEN, labels_br[1], False)]
ax_br.axhline(1.0, color='black', lw=2.0, zorder=7)
ax_br.set_xlim(-1.5, 1.5)
ax_br.set_ylim(1e-4, 1e7)
legend(ax_br, hs)
ax_br.text(0.015, 0.965, 'dominant sedimentation time scale', transform=ax_br.transAxes,
           fontsize=18, ha='left', va='center', zorder=8)
ax_br.text(0.015, 0.030, 'dominant growth/mixing time scale', transform=ax_br.transAxes,
           fontsize=18, ha='left', va='center', zorder=8)
ax_br.set_xlabel('vertical velocity (m/s)', fontsize=FS)
ax_br.set_ylabel(r'time scale ratios $|\mathrm{τ}_1/\mathrm{τ}_2|$', fontsize=FS)

# label placement
for ax, ylx, xly in [(ax_tl, -0.197, -0.120), (ax_tr, -0.214, -0.120),
                     (ax_bl, -0.207, -0.098), (ax_br, -0.210, -0.098)]:
    ax.yaxis.set_label_coords(ylx, 0.5)
    ax.yaxis.label.set_verticalalignment('center')
    ax.xaxis.set_label_coords(0.5, xly)
    ax.xaxis.label.set_verticalalignment('center')

fig.savefig('out.png', dpi=100)
